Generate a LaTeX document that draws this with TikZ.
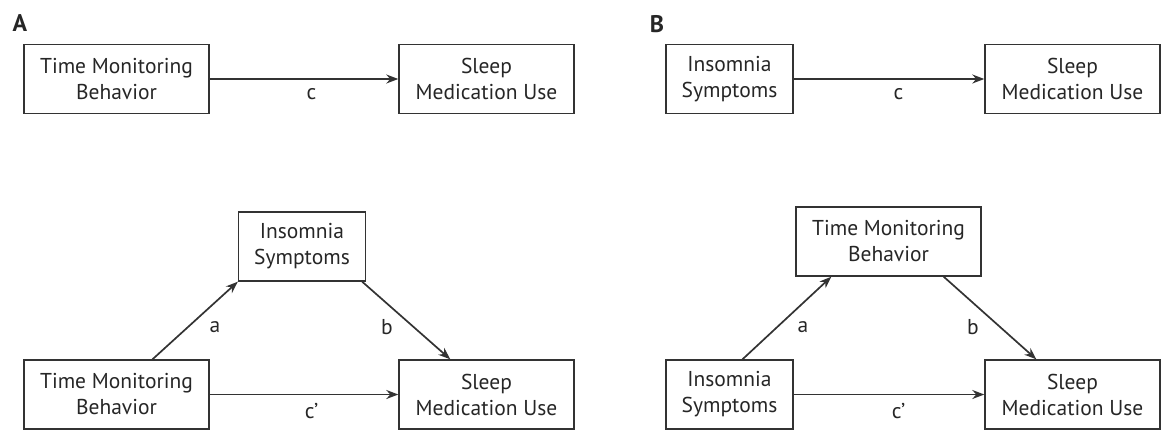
\documentclass[tikz,border=0pt]{standalone}
\usepackage{fontspec}
\setmainfont{PT Sans}
\usetikzlibrary{arrows.meta}
\tikzset{%
  >={Stealth[width=9pt,length=12pt]},
  % Specifications for style of nodes:
          base/.style = {rectangle, draw=black!80, line width=1.4pt,
                         text=black!85, align=center, inner sep=0pt,
                         font=\fontsize{21.5}{26}\selectfont},
      monitorBox/.style = {base, minimum width=185pt, minimum height=69pt},
     insomniaBox/.style = {base, minimum width=127pt, minimum height=69pt},
      sleepBox/.style = {base, minimum width=175pt, minimum height=69pt},
     pathLabel/.style = {text=black!85, font=\fontsize{21.5}{26}\selectfont},
    panelLabel/.style = {text=black!85, font=\fontsize{24}{28}\selectfont\bfseries},
         link/.style = {->, draw=black!80, line width=1.7pt},
}

\begin{document}
\begin{tikzpicture}[x=1pt, y=-1pt]
  \useasboundingbox (0,0) rectangle (1161,432);

  % Panel A
  \node (labelA)  [panelLabel] at (20,23)      {A};
  \node (tmbA)    [monitorBox] at (116.5,79)   {Time Monitoring\\Behavior};
  \node (smuA)    [sleepBox] at (486.5,79)     {Sleep\\Medication Use};
  \node (tmbAm)   [monitorBox] at (116.5,394.5) {Time Monitoring\\Behavior};
  \node (insA)    [insomniaBox] at (302,246.5) {Insomnia\\Symptoms};
  \node (smuAm)   [sleepBox] at (486.5,394.5)  {Sleep\\Medication Use};

  % Panel B
  \node (labelB)  [panelLabel] at (657,24)     {B};
  \node (insB)    [insomniaBox] at (729.5,79)  {Insomnia\\Symptoms};
  \node (smuB)    [sleepBox] at (1072.5,79)    {Sleep\\Medication Use};
  \node (insBm)   [insomniaBox] at (729.5,394.5) {Insomnia\\Symptoms};
  \node (tmbB)    [monitorBox] at (888.5,241.5) {Time Monitoring\\Behavior};
  \node (smuBm)   [sleepBox] at (1072.5,394.5) {Sleep\\Medication Use};

  % Total effects
  \draw[link] (tmbA) -- node[pathLabel, below=5pt, pos=0.54] {c} (smuA);
  \draw[link] (insB) -- node[pathLabel, below=5pt, pos=0.55] {c} (smuB);

  % Mediated paths, panel A
  \draw[link] ([xshift=36pt]tmbAm.north) -- (insA.south west);
  \draw[link] ([xshift=-4pt]insA.south east) -- ([xshift=52pt]smuAm.north west);
  \draw[link] (tmbAm) -- node[pathLabel, below=5pt, pos=0.54] {c’} (smuAm);
  \node (aA) [pathLabel] at (215,327) {a};
  \node (bA) [pathLabel] at (387,327) {b};

  % Mediated paths, panel B
  \draw[link] ([xshift=13pt]insBm.north) -- ([xshift=36pt]tmbB.south west);
  \draw[link] ([xshift=-38pt]tmbB.south east) -- ([xshift=52pt]smuBm.north west);
  \draw[link] (insBm) -- node[pathLabel, below=5pt, pos=0.55] {c’} (smuBm);
  \node (aB) [pathLabel] at (803,327) {a};
  \node (bB) [pathLabel] at (973,327) {b};
\end{tikzpicture}
\end{document}
